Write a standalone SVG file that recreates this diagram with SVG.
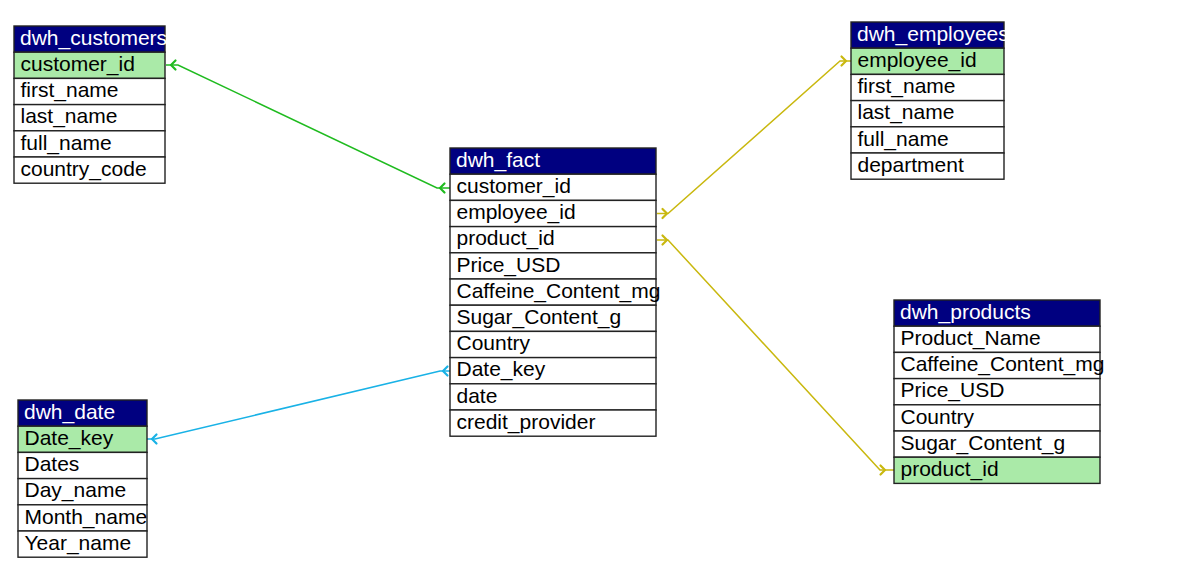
<svg xmlns="http://www.w3.org/2000/svg" xmlns:xlink="http://www.w3.org/1999/xlink" width="1189" height="585" viewBox="0 0 1189 585">
  <style>
    .hdr { fill: #000080; stroke: #222; stroke-width: 1.4; }
    .row { fill: #ffffff; stroke: #222; stroke-width: 1.4; }
    .key { fill: #aaeaa8; stroke: #222; stroke-width: 1.4; }
    .ht { font-family: "Liberation Sans", Arial, sans-serif; font-size: 21px; fill: #ffffff; }
    .rt { font-family: "Liberation Sans", Arial, sans-serif; font-size: 21px; fill: #000000; }
    .link { fill: none; stroke-width: 1.5; }
    .chev { fill: none; stroke-width: 2.2; stroke-linecap: round; stroke-linejoin: round; }
    .green { stroke: #1fbb1f; }
    .yellow { stroke: #c9b80f; }
    .blue { stroke: #19b2e6; }
  </style>
  <defs>
    <!-- open chevrons, tip at the origin -->
    <path id="chevL" d="M4.5,-4.5 L0,0 L4.5,4.5"/>
    <path id="chevR" d="M-4.5,-4.5 L0,0 L-4.5,4.5"/>
  </defs>
  <rect width="1189" height="585" fill="#ffffff"/>

  <!-- relationships -->
  <g id="connectors">
    <path class="link green" d="M166,65 H178 L437,188 H450"/>
    <use xlink:href="#chevL" class="chev green" x="171" y="65"/>
    <use xlink:href="#chevL" class="chev green" x="440" y="188"/>

    <path class="link yellow" d="M657,213.5 H668 L840,61 H851"/>
    <use xlink:href="#chevR" class="chev yellow" x="667" y="213.5"/>
    <use xlink:href="#chevR" class="chev yellow" x="846" y="61"/>

    <path class="link yellow" d="M657,240 H668 L880,470 H894"/>
    <use xlink:href="#chevR" class="chev yellow" x="667" y="240"/>
    <use xlink:href="#chevR" class="chev yellow" x="885" y="470"/>

    <path class="link blue" d="M147,439 H155 L440,371 H450"/>
    <use xlink:href="#chevL" class="chev blue" x="152" y="439"/>
    <use xlink:href="#chevL" class="chev blue" x="443" y="371"/>
  </g>

  <!-- dwh_customers -->
  <g id="dwh_customers">
    <rect class="hdr" x="14" y="26" width="151" height="26.2"/>
    <rect class="key" x="14" y="52.2" width="151" height="26.2"/>
    <rect class="row" x="14" y="78.4" width="151" height="26.2"/>
    <rect class="row" x="14" y="104.6" width="151" height="26.2"/>
    <rect class="row" x="14" y="130.8" width="151" height="26.2"/>
    <rect class="row" x="14" y="157" width="151" height="26.2"/>
    <text class="ht" x="20" y="44.8">dwh_customers</text>
    <text class="rt" x="20.5" y="71">customer_id</text>
    <text class="rt" x="20.5" y="97.2">first_name</text>
    <text class="rt" x="20.5" y="123.4">last_name</text>
    <text class="rt" x="20.5" y="149.6">full_name</text>
    <text class="rt" x="20.5" y="175.8">country_code</text>
  </g>

  <!-- dwh_employees -->
  <g id="dwh_employees">
    <rect class="hdr" x="851" y="22" width="153" height="26.2"/>
    <rect class="key" x="851" y="48.2" width="153" height="26.2"/>
    <rect class="row" x="851" y="74.4" width="153" height="26.2"/>
    <rect class="row" x="851" y="100.6" width="153" height="26.2"/>
    <rect class="row" x="851" y="126.8" width="153" height="26.2"/>
    <rect class="row" x="851" y="153" width="153" height="26.2"/>
    <text class="ht" x="857" y="40.8">dwh_employees</text>
    <text class="rt" x="857.5" y="67">employee_id</text>
    <text class="rt" x="857.5" y="93.2">first_name</text>
    <text class="rt" x="857.5" y="119.4">last_name</text>
    <text class="rt" x="857.5" y="145.6">full_name</text>
    <text class="rt" x="857.5" y="171.8">department</text>
  </g>

  <!-- dwh_fact -->
  <g id="dwh_fact">
    <rect class="hdr" x="450" y="148" width="206" height="26.2"/>
    <rect class="row" x="450" y="174.2" width="206" height="26.2"/>
    <rect class="row" x="450" y="200.4" width="206" height="26.2"/>
    <rect class="row" x="450" y="226.6" width="206" height="26.2"/>
    <rect class="row" x="450" y="252.8" width="206" height="26.2"/>
    <rect class="row" x="450" y="279" width="206" height="26.2"/>
    <rect class="row" x="450" y="305.2" width="206" height="26.2"/>
    <rect class="row" x="450" y="331.4" width="206" height="26.2"/>
    <rect class="row" x="450" y="357.6" width="206" height="26.2"/>
    <rect class="row" x="450" y="383.8" width="206" height="26.2"/>
    <rect class="row" x="450" y="410" width="206" height="26.2"/>
    <text class="ht" x="456" y="166.8">dwh_fact</text>
    <text class="rt" x="456.5" y="193">customer_id</text>
    <text class="rt" x="456.5" y="219.2">employee_id</text>
    <text class="rt" x="456.5" y="245.4">product_id</text>
    <text class="rt" x="456.5" y="271.6">Price_USD</text>
    <text class="rt" x="456.5" y="297.8">Caffeine_Content_mg</text>
    <text class="rt" x="456.5" y="324">Sugar_Content_g</text>
    <text class="rt" x="456.5" y="350.2">Country</text>
    <text class="rt" x="456.5" y="376.4">Date_key</text>
    <text class="rt" x="456.5" y="402.6">date</text>
    <text class="rt" x="456.5" y="428.8">credit_provider</text>
  </g>

  <!-- dwh_products -->
  <g id="dwh_products">
    <rect class="hdr" x="894" y="300" width="206" height="26.2"/>
    <rect class="row" x="894" y="326.2" width="206" height="26.2"/>
    <rect class="row" x="894" y="352.4" width="206" height="26.2"/>
    <rect class="row" x="894" y="378.6" width="206" height="26.2"/>
    <rect class="row" x="894" y="404.8" width="206" height="26.2"/>
    <rect class="row" x="894" y="431" width="206" height="26.2"/>
    <rect class="key" x="894" y="457.2" width="206" height="26.2"/>
    <text class="ht" x="900" y="318.8">dwh_products</text>
    <text class="rt" x="900.5" y="345">Product_Name</text>
    <text class="rt" x="900.5" y="371.2">Caffeine_Content_mg</text>
    <text class="rt" x="900.5" y="397.4">Price_USD</text>
    <text class="rt" x="900.5" y="423.6">Country</text>
    <text class="rt" x="900.5" y="449.8">Sugar_Content_g</text>
    <text class="rt" x="900.5" y="476">product_id</text>
  </g>

  <!-- dwh_date -->
  <g id="dwh_date">
    <rect class="hdr" x="18" y="400" width="129" height="26.2"/>
    <rect class="key" x="18" y="426.2" width="129" height="26.2"/>
    <rect class="row" x="18" y="452.4" width="129" height="26.2"/>
    <rect class="row" x="18" y="478.6" width="129" height="26.2"/>
    <rect class="row" x="18" y="504.8" width="129" height="26.2"/>
    <rect class="row" x="18" y="531" width="129" height="26.2"/>
    <text class="ht" x="24" y="418.8">dwh_date</text>
    <text class="rt" x="24.5" y="445">Date_key</text>
    <text class="rt" x="24.5" y="471.2">Dates</text>
    <text class="rt" x="24.5" y="497.4">Day_name</text>
    <text class="rt" x="24.5" y="523.6">Month_name</text>
    <text class="rt" x="24.5" y="549.8">Year_name</text>
  </g>
</svg>
